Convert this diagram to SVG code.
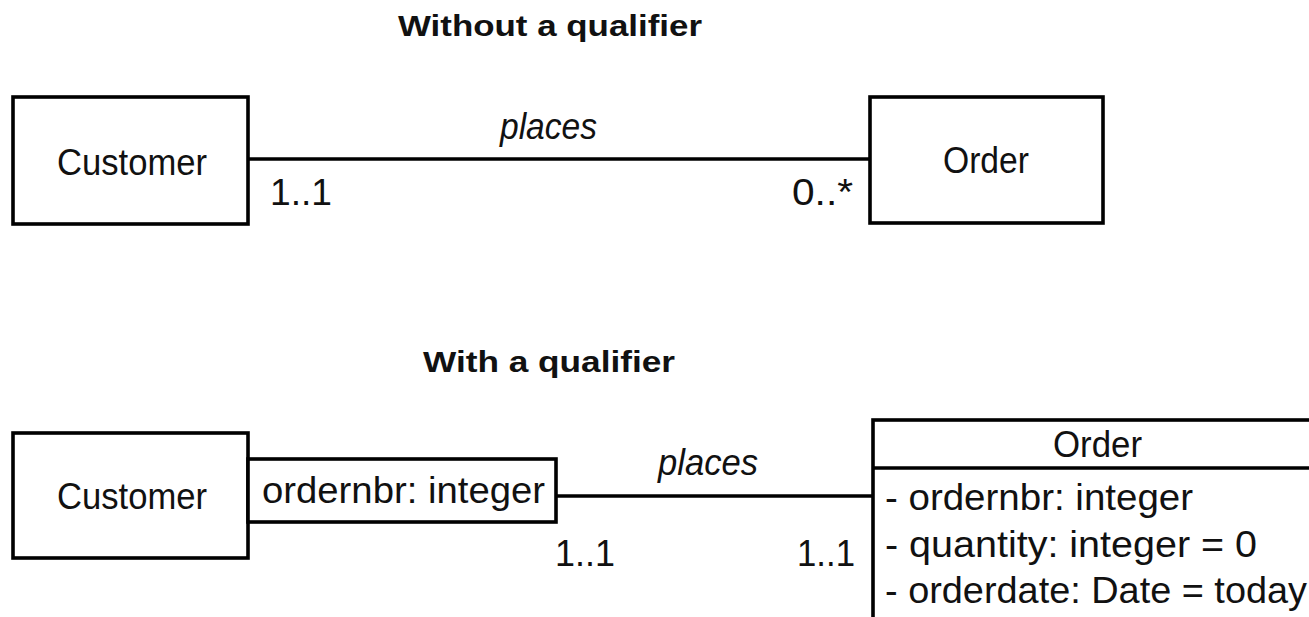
<svg xmlns="http://www.w3.org/2000/svg" width="1309" height="617" viewBox="0 0 1309 617">
  <style>
    .box { fill: #ffffff; stroke: #000000; stroke-width: 3.6; }
    .edge { fill: none; stroke: #000000; stroke-width: 3.6; }
    text { font-family: "Liberation Sans", Arial, sans-serif; fill: #111111; }
    .name { font-size: 37px; }
    .mult { font-size: 37px; }
    .role { font-size: 36px; font-style: italic; }
    .title { font-size: 30px; font-weight: bold; }
    .attr { font-size: 36px; }
  </style>

  <!-- section headings -->
  <text id="title-without" class="title" x="398" y="36" textLength="304" lengthAdjust="spacingAndGlyphs">Without a qualifier</text>
  <text id="title-with" class="title" x="423" y="372" textLength="252" lengthAdjust="spacingAndGlyphs">With a qualifier</text>

  <!-- associations -->
  <g id="connectors">
    <line class="edge" x1="248" y1="159" x2="870" y2="159"/>
    <line class="edge" x1="556" y1="496" x2="873" y2="496"/>
  </g>

  <!-- plain association -->
  <g id="customer-top">
    <rect class="box" x="13" y="97" width="235" height="127"/>
    <text class="name" x="57" y="175" textLength="150" lengthAdjust="spacingAndGlyphs">Customer</text>
  </g>
  <g id="order-top">
    <rect class="box" x="870" y="97" width="233" height="126"/>
    <text class="name" x="943" y="173" textLength="86" lengthAdjust="spacingAndGlyphs">Order</text>
  </g>
  <g id="labels-top">
    <text class="role" x="500" y="139" textLength="97" lengthAdjust="spacingAndGlyphs">places</text>
    <text class="mult" x="270" y="205" textLength="62" lengthAdjust="spacingAndGlyphs">1..1</text>
    <text class="mult" x="792" y="205" textLength="61" lengthAdjust="spacingAndGlyphs">0..*</text>
  </g>

  <!-- qualified association -->
  <g id="customer-bottom">
    <rect class="box" x="13" y="433" width="235" height="125"/>
    <text class="name" x="57" y="509" textLength="150" lengthAdjust="spacingAndGlyphs">Customer</text>
  </g>
  <g id="qualifier">
    <rect class="box" x="248" y="459" width="308" height="63"/>
    <text class="attr" x="262" y="503" textLength="283" lengthAdjust="spacingAndGlyphs">ordernbr: integer</text>
  </g>
  <g id="order-bottom">
    <rect class="box" x="873" y="420" width="500" height="260"/>
    <line class="edge" x1="873" y1="468" x2="1320" y2="468"/>
    <text class="name" x="1053" y="457" textLength="89" lengthAdjust="spacingAndGlyphs">Order</text>
    <text class="attr" x="885" y="510" textLength="308" lengthAdjust="spacingAndGlyphs">- ordernbr: integer</text>
    <text class="attr" x="885" y="557" textLength="372" lengthAdjust="spacingAndGlyphs">- quantity: integer = 0</text>
    <text class="attr" x="885" y="603" textLength="422" lengthAdjust="spacingAndGlyphs">- orderdate: Date = today</text>
  </g>
  <g id="labels-bottom">
    <text class="role" x="658" y="475" textLength="100" lengthAdjust="spacingAndGlyphs">places</text>
    <text class="mult" x="555" y="566" textLength="60" lengthAdjust="spacingAndGlyphs">1..1</text>
    <text class="mult" x="797" y="566" textLength="58" lengthAdjust="spacingAndGlyphs">1..1</text>
  </g>
</svg>
